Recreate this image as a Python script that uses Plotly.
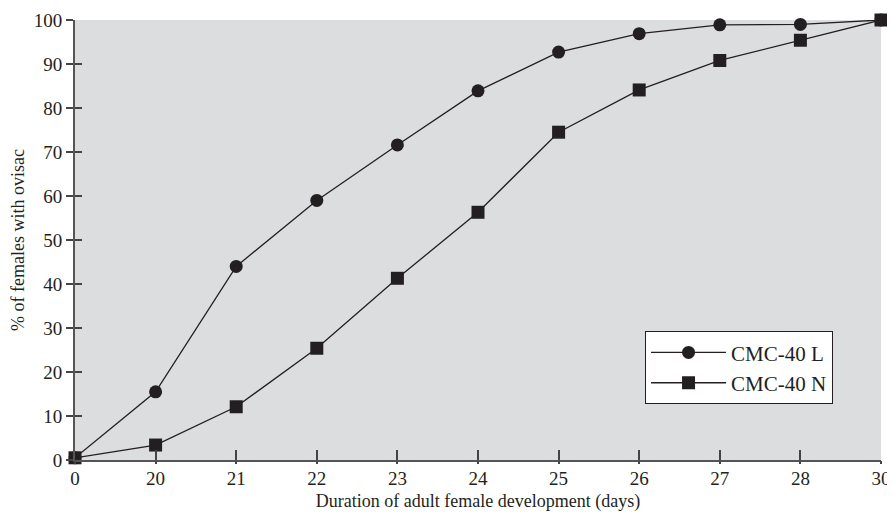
import plotly.graph_objects as go

days = ["0", "20", "21", "22", "23", "24", "25", "26", "27", "28", "30"]
cmc_l = [0.5, 15.5, 44.0, 59.0, 71.6, 83.9, 92.7, 96.9, 98.9, 99.0, 100]
cmc_n = [0.5, 3.4, 12.1, 25.4, 41.3, 56.3, 74.5, 84.1, 90.8, 95.4, 100]
y_ticks = [0, 10, 20, 30, 40, 50, 60, 70, 80, 90, 100]

xs = list(range(len(days)))
ink = "#231f20"
font = dict(family="Liberation Serif, Times New Roman, serif", size=18, color=ink)

fig = go.Figure()
fig.add_trace(go.Scatter(x=xs, y=cmc_l, name="CMC-40 L", mode="lines+markers",
                         line=dict(color=ink, width=1.3),
                         marker=dict(symbol="circle", size=13, color=ink),
                         cliponaxis=False))
fig.add_trace(go.Scatter(x=xs, y=cmc_n, name="CMC-40 N", mode="lines+markers",
                         line=dict(color=ink, width=1.3),
                         marker=dict(symbol="square", size=13, color=ink),
                         cliponaxis=False))
# invisible trace to carry overlay axes for the crossing tick halves
fig.add_trace(go.Scatter(x=[xs[0]], y=[0], xaxis="x2", yaxis="y2", mode="markers",
                         marker=dict(opacity=0), showlegend=False, hoverinfo="skip"))

fig.update_layout(
    width=887, height=504,
    margin=dict(l=67, r=14, t=12, b=52),
    paper_bgcolor="white", plot_bgcolor="#dcdddf",
    font=font,
    showlegend=True,
    legend=dict(x=0.707, y=0.293, xanchor="left", yanchor="top",
                bgcolor="white", bordercolor=ink, borderwidth=1.2,
                font=dict(size=21), itemwidth=75, tracegroupgap=3,
                entrywidth=186, entrywidthmode="pixels"),
    xaxis=dict(range=[0, 10], tickmode="array", tickvals=xs, ticktext=days,
               showgrid=False, zeroline=False, showline=True, linecolor="#555555",
               linewidth=2, ticks="inside", ticklen=10, tickcolor="#444444", tickwidth=1.5,
               title=dict(text="Duration of adult female development (days)", standoff=8,
                          font=dict(size=18)),
               tickfont=dict(size=19), automargin=False),
    yaxis=dict(range=[0, 100], tickmode="array", tickvals=y_ticks,
               showgrid=False, zeroline=False, showline=True, linecolor="#555555",
               linewidth=2, ticks="outside", ticklen=7, tickcolor="#444444", tickwidth=1.5,
               title=dict(text="% of females with ovisac", standoff=10, font=dict(size=18)),
               tickfont=dict(size=19), automargin=False),
    xaxis2=dict(overlaying="x", range=[0, 10], tickmode="array", tickvals=xs,
                showticklabels=False, ticks="outside", ticklen=3, tickcolor="#444444",
                tickwidth=1.5, showgrid=False, zeroline=False, side="bottom",
                automargin=False),
    yaxis2=dict(overlaying="y", range=[0, 100], tickmode="array", tickvals=y_ticks,
                showticklabels=False, ticks="inside", ticklen=7, tickcolor="#444444",
                tickwidth=1.5, showgrid=False, zeroline=False, side="left",
                automargin=False),
)

fig.write_html("out.html")
